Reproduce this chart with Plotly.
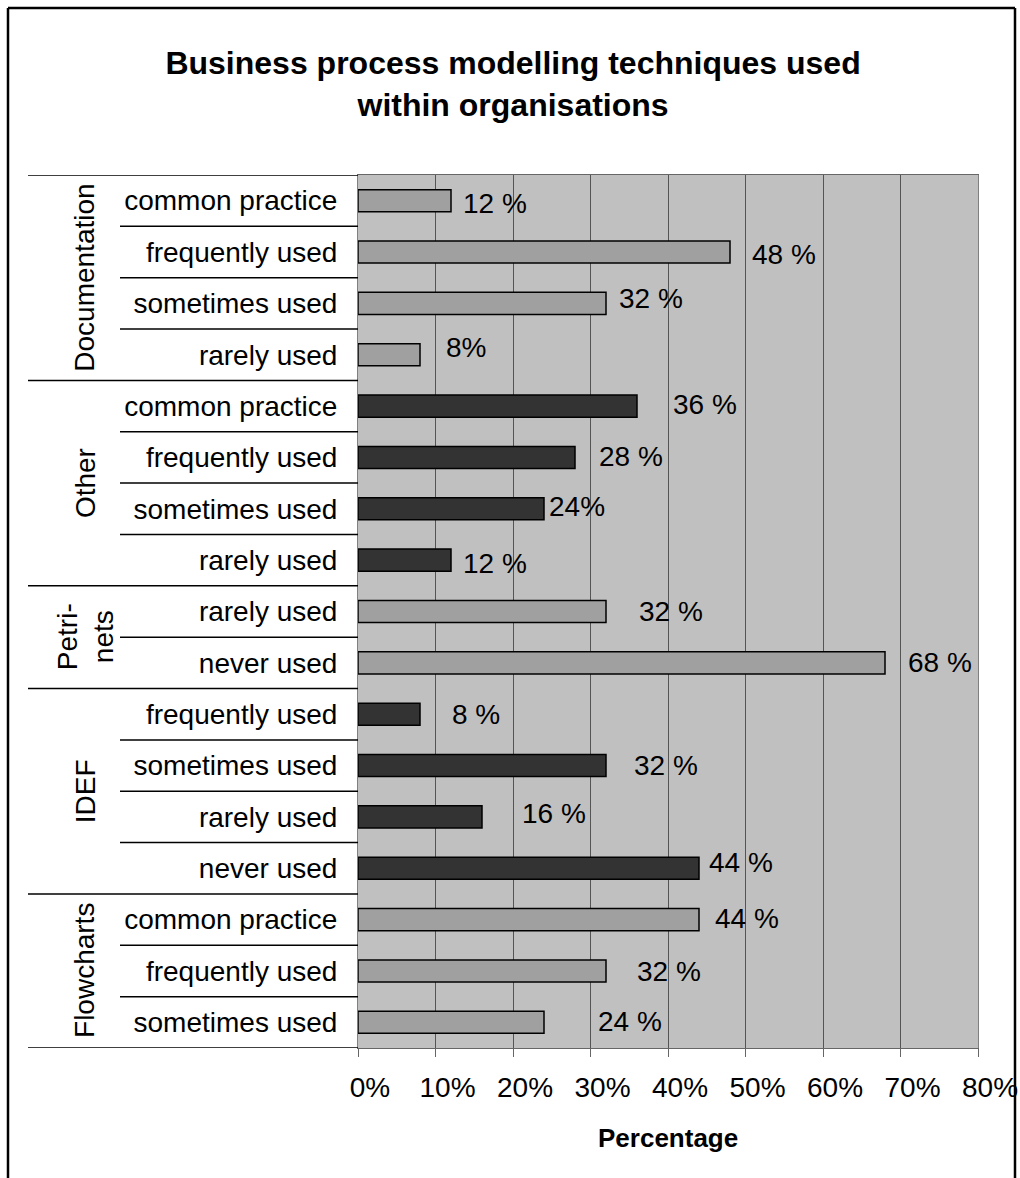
import plotly.graph_objects as go

# ---------------- data ----------------
groups = ["Documentation", "Other", "Petri-<br>nets", "IDEF", "Flowcharts"]

doc_levels = ["common practice", "frequently used", "sometimes used", "rarely used"]
doc_values = [12, 48, 32, 8]
doc_labels = ["12 %", "48 %", "32 %", "8%"]

other_levels = ["common practice", "frequently used", "sometimes used", "rarely used"]
other_values = [36, 28, 24, 12]
other_labels = ["36 %", "28 %", "24%", "12 %"]

petri_levels = ["rarely used", "never used"]
petri_values = [32, 68]
petri_labels = ["32 %", "68 %"]

idef_levels = ["frequently used", "sometimes used", "rarely used", "never used"]
idef_values = [8, 32, 16, 44]
idef_labels = ["8 %", "32 %", "16 %", "44 %"]

flow_levels = ["common practice", "frequently used", "sometimes used"]
flow_values = [44, 32, 24]
flow_labels = ["44 %", "32 %", "24 %"]

x_tickvals = [0, 10, 20, 30, 40, 50, 60, 70, 80]
x_ticktext = ["0%", "10%", "20%", "30%", "40%", "50%", "60%", "70%", "80%"]

# ---------------- styling ----------------
group_colors = ["#a0a0a0", "#333333", "#a0a0a0", "#333333", "#a0a0a0"]
# pixel gap between bar end and label, and small vertical nudges (styling only)
label_gap = [10, 20, 11, 24, 34, 22, 3, 10, 31, 21, 30, 26, 38, 8, 14, 29, 52]
label_dy = [-3, -2, 5, 7, 2, 1, 2, -3, 0, 0, 0, 0, 3, 6, 1, -1, 1]

FONT = "Liberation Sans, Arial, sans-serif"

levels_by_group = [doc_levels, other_levels, petri_levels, idef_levels, flow_levels]
values_by_group = [doc_values, other_values, petri_values, idef_values, flow_values]
labels_by_group = [doc_labels, other_labels, petri_labels, idef_labels, flow_labels]

fig = go.Figure()

all_levels, all_values, all_labels = [], [], []
pos = 0
group_spans = []
for g, lv, vals, labs, col in zip(groups, levels_by_group, values_by_group,
                                  labels_by_group, group_colors):
    ys = list(range(pos, pos + len(vals)))
    fig.add_trace(go.Bar(
        x=vals, y=ys, orientation="h", width=0.43,
        marker=dict(color=col, line=dict(color="#000000", width=1.5)),
        showlegend=False, hoverinfo="x+y", name=g.replace("<br>", ""),
    ))
    group_spans.append((g, pos, pos + len(vals)))
    all_levels += lv
    all_values += vals
    all_labels += labs
    pos += len(vals)

n = pos

# data labels
for i, (v, t) in enumerate(zip(all_values, all_labels)):
    fig.add_annotation(x=v, y=i, xref="x", yref="y", text=t, showarrow=False,
                       xanchor="left", yanchor="middle",
                       xshift=label_gap[i], yshift=label_dy[i],
                       font=dict(family=FONT, size=28, color="#000000"))

# plot geometry (pixels) for paper-referenced decorations
L, R, T, B = 358, 978, 175, 1048
W, H = R - L, B - T

def px_x(p):
    return (p - L) / W

def px_y(p):
    return (B - p) / H

shapes = []
group_bounds = set()
for g, a, b in group_spans:
    group_bounds.add(a)
    group_bounds.add(b)
for k in range(n + 1):
    x0 = px_x(28) if k in group_bounds else px_x(120)
    shapes.append(dict(type="line", xref="paper", yref="y", x0=x0, x1=0,
                       y0=k - 0.5, y1=k - 0.5,
                       line=dict(color="#000000", width=1.5)))

# outer frame (left, top, right)
fx0, fx1, fy_top, fy_bot = px_x(8), px_x(1015), px_y(8), px_y(1190)
for (a, b, c, d) in [(fx0, fy_top, fx0, fy_bot), (fx0, fy_top, fx1, fy_top),
                     (fx1, fy_top, fx1, fy_bot)]:
    shapes.append(dict(type="line", xref="paper", yref="paper",
                       x0=a, y0=b, x1=c, y1=d, layer="above",
                       line=dict(color="#000000", width=2.5)))

# group labels (rotated)
for g, a, b in group_spans:
    fig.add_annotation(x=px_x(85), y=(a + b - 1) / 2, xref="paper", yref="y",
                       text=g, textangle=-90, showarrow=False,
                       xanchor="center", yanchor="middle",
                       font=dict(family=FONT, size=28, color="#000000"))

# axis title
fig.add_annotation(x=0.5, y=px_y(1138), xref="paper", yref="paper",
                   text="<b>Percentage</b>", showarrow=False,
                   xanchor="center", yanchor="middle",
                   font=dict(family=FONT, size=26, color="#000000"))

fig.update_layout(
    width=1020, height=1178,
    margin=dict(l=L, r=1020 - R, t=T, b=1178 - B, autoexpand=False),
    paper_bgcolor="#ffffff", plot_bgcolor="#c0c0c0",
    barmode="overlay",
    title=dict(text="<b>Business process modelling techniques used<br>within organisations</b>",
               x=0.503, xanchor="center", y=1 - 74 / 1178, yanchor="middle",
               font=dict(family=FONT, size=32, color="#000000")),
    shapes=shapes,
    font=dict(family=FONT, size=28, color="#000000"),
)

fig.update_xaxes(range=[0, 80], tickvals=x_tickvals, ticktext=x_ticktext,
                 showgrid=True, gridcolor="#555555", gridwidth=1,
                 ticks="outside", ticklen=8, tickcolor="#666666", tickwidth=1,
                 showline=True, linecolor="#666666", linewidth=1, mirror=True,
                 zeroline=False, ticklabelstandoff=6, ticklabelshift=12,
                 automargin=False,
                 tickfont=dict(family=FONT, size=28, color="#000000"),
                 fixedrange=True)
fig.update_yaxes(range=[n - 0.5, -0.5], tickvals=list(range(n)), ticktext=all_levels,
                 showgrid=False, ticks="", showline=True, linecolor="#808080",
                 linewidth=1, mirror=True, zeroline=False, ticklabelstandoff=14,
                 automargin=False,
                 tickfont=dict(family=FONT, size=28, color="#000000"),
                 fixedrange=True)

fig.write_html("out.html")
